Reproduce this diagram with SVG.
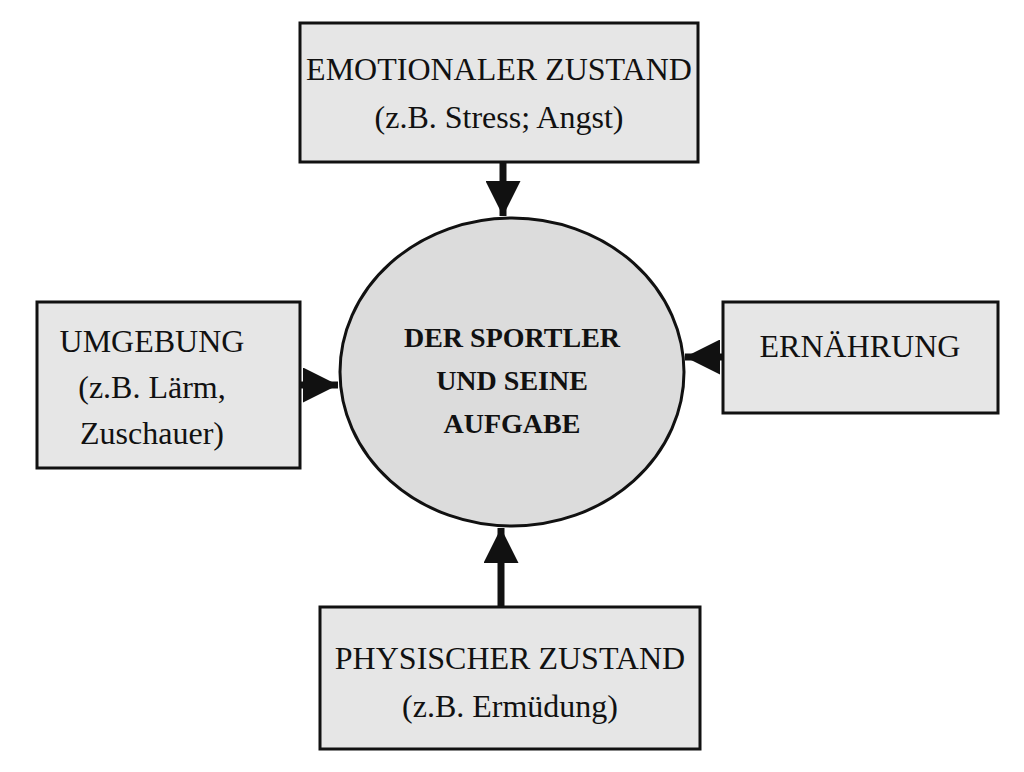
<svg xmlns="http://www.w3.org/2000/svg" width="1024" height="772" viewBox="0 0 1024 772">
<style>
.box{fill:#e6e6e6;stroke:#111;stroke-width:3}
.t{font-family:"Liberation Serif",serif;font-size:32px;fill:#111;text-anchor:middle}
.b{font-family:"Liberation Serif",serif;font-size:28px;font-weight:bold;fill:#111;text-anchor:middle}
.c{stroke:#111;stroke-width:7;fill:none}
</style>
<defs><marker id="ah" viewBox="0 0 10 10" refX="10" refY="5" markerWidth="5" markerHeight="5" orient="auto" markerUnits="strokeWidth"><path d="M0,0 L10,5 L0,10 Z" fill="#111"/></marker></defs>
<rect width="1024" height="772" fill="#fff"/>
<g id="connectors">
<line class="c" x1="503" y1="162" x2="503" y2="216" marker-end="url(#ah)"/>
<line class="c" x1="501" y1="607" x2="501" y2="528" marker-end="url(#ah)"/>
<line class="c" x1="300" y1="385" x2="338" y2="385" marker-end="url(#ah)"/>
<line class="c" x1="723" y1="357" x2="685" y2="357" marker-end="url(#ah)"/>
</g>
<g id="center"><ellipse cx="512" cy="372" rx="172" ry="154" fill="#dcdcdc" stroke="#111" stroke-width="3"/>
<text class="b" x="512" y="347">DER SPORTLER</text><text class="b" x="512" y="390">UND SEINE</text><text class="b" x="512" y="433">AUFGABE</text></g>
<g id="top"><rect class="box" x="300" y="23" width="398" height="139"/>
<text class="t" x="499" y="80">EMOTIONALER ZUSTAND</text><text class="t" x="499" y="128">(z.B. Stress; Angst)</text></g>
<g id="left"><rect class="box" x="37" y="302" width="263" height="166"/>
<text class="t" x="152" y="352">UMGEBUNG</text><text class="t" x="152" y="398">(z.B. Lärm,</text><text class="t" x="152" y="444">Zuschauer)</text></g>
<g id="right"><rect class="box" x="723" y="302" width="275" height="111"/>
<text class="t" x="860" y="357">ERNÄHRUNG</text></g>
<g id="bottom"><rect class="box" x="320" y="607" width="380" height="142"/>
<text class="t" x="510" y="669">PHYSISCHER ZUSTAND</text><text class="t" x="510" y="717">(z.B. Ermüdung)</text></g>
</svg>
